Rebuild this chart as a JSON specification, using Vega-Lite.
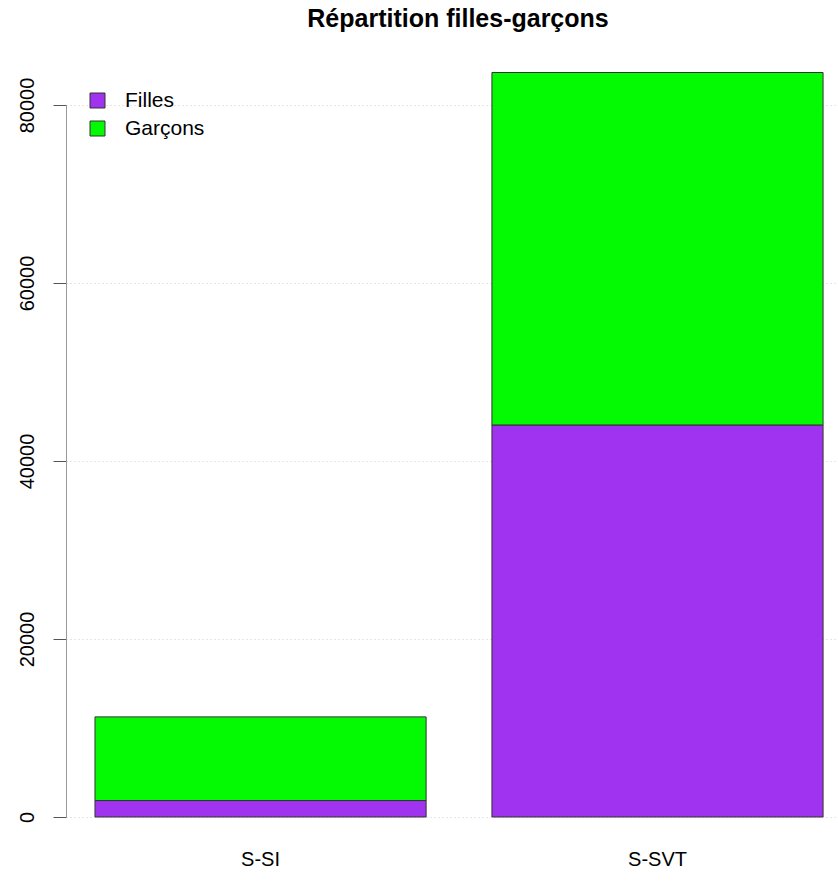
{
  "$schema": "https://vega.github.io/schema/vega-lite/v6.json",
  "autosize": "none",
  "width": 772,
  "height": 712,
  "padding": {"left": 66, "top": 105, "right": 0, "bottom": 65},
  "background": "white",
  "config": {
    "view": {"stroke": null},
    "font": "Liberation Sans"
  },
  "title": {
    "text": "Répartition filles-garçons",
    "fontSize": 25,
    "fontWeight": "bold",
    "font": "Liberation Sans",
    "color": "black",
    "anchor": "middle",
    "frame": "group",
    "offset": 40,
    "dx": 6
  },
  "data": {
    "values": [
      {"section": "S-SI", "sexe": "Filles", "effectif": 1850},
      {"section": "S-SI", "sexe": "Garçons", "effectif": 9400},
      {"section": "S-SVT", "sexe": "Filles", "effectif": 44050},
      {"section": "S-SVT", "sexe": "Garçons", "effectif": 39600}
    ]
  },
  "mark": {"type": "bar", "stroke": "#333333", "strokeWidth": 1, "clip": false},
  "encoding": {
    "x": {
      "field": "section",
      "type": "nominal",
      "scale": {"paddingInner": 0.1658, "paddingOuter": 0.0553, "align": 0.66},
      "axis": {
        "title": null,
        "labelAngle": 0,
        "labelFontSize": 20,
        "labelColor": "black",
        "labelPadding": 32,
        "domain": false,
        "ticks": false
      }
    },
    "y": {
      "field": "effectif",
      "type": "quantitative",
      "aggregate": "sum",
      "stack": "zero",
      "scale": {"domain": [0, 80000], "nice": false},
      "axis": {
        "title": null,
        "values": [0, 20000, 40000, 60000, 80000],
        "format": "d",
        "labelAngle": -90,
        "labelAlign": "center",
        "labelBaseline": "bottom",
        "labelFontSize": 20,
        "labelColor": "black",
        "labelPadding": 16,
        "tickSize": 13,
        "tickColor": "#555555",
        "domainColor": "#999999",
        "grid": true,
        "gridColor": "#cccccc",
        "gridDash": [1, 3],
        "offset": 0
      }
    },
    "color": {
      "field": "sexe",
      "type": "nominal",
      "scale": {"domain": ["Filles", "Garçons"], "range": ["#A033F0", "#03FA03"]},
      "legend": {
        "title": null,
        "orient": "none",
        "legendX": 21,
        "legendY": -15,
        "symbolType": "square",
        "symbolSize": 225,
        "symbolStrokeColor": "#333333",
        "symbolStrokeWidth": 1,
        "symbolOpacity": 1,
        "labelFontSize": 21,
        "labelColor": "black",
        "labelOffset": 17,
        "rowPadding": 6
      }
    },
    "order": {"field": "sexe", "sort": "ascending"}
  }
}
